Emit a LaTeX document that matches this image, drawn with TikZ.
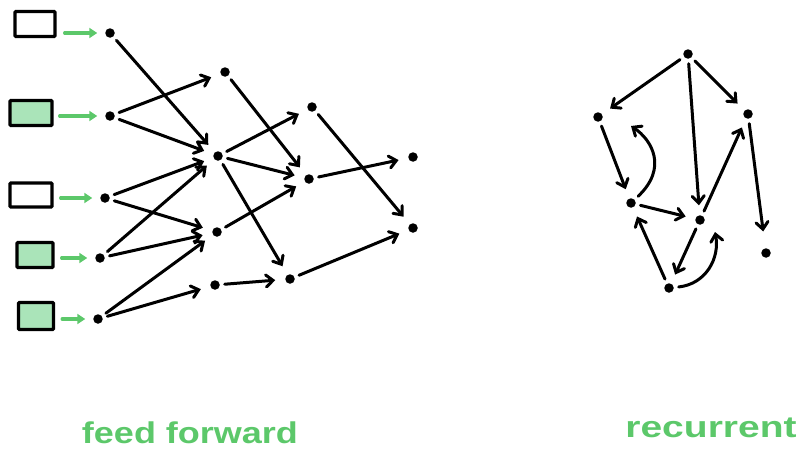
\documentclass[tikz,border=0pt]{standalone}
\usepackage{fontspec}
\setmainfont{Liberation Sans}
\usetikzlibrary{arrows.meta}
\definecolor{fgreen}{RGB}{92,200,106}
\definecolor{boxgreen}{RGB}{170,228,185}
\begin{document}
\begin{tikzpicture}[x=1pt,y=-1pt,
  dot/.style={circle,fill=black,inner sep=0pt,minimum size=9.5pt,outer sep=5pt},
  inbox/.style={draw=black,line width=3.2pt,inner sep=0pt,rounded corners=1pt},
  edge/.style={line width=3pt,line cap=round,shorten >=5pt,-{Straight Barb[length=7pt,width=12pt,line cap=round]}},
  garrow/.style={draw=fgreen,line width=3.2pt,line cap=round,shorten >=3pt,-{Triangle[length=8pt,width=10pt]}},
  lbl/.style={text=fgreen,font=\fontsize{30}{30}\selectfont\bfseries,anchor=base,inner sep=0pt}
]
\useasboundingbox (0,0) rectangle (800,455);
% input boxes
\node[inbox,fill=white,minimum width=40pt,minimum height=25pt] (b1) at (35,24) {};
\node[inbox,fill=boxgreen,minimum width=42pt,minimum height=25pt] (b2) at (31,113) {};
\node[inbox,fill=white,minimum width=42pt,minimum height=24pt] (b3) at (31,195) {};
\node[inbox,fill=boxgreen,minimum width=36pt,minimum height=25pt] (b4) at (35,255) {};
\node[inbox,fill=boxgreen,minimum width=35pt,minimum height=27pt] (b5) at (36,316) {};
% input layer
\node[dot] (i1) at (110,33) {};
\node[dot] (i2) at (110,116) {};
\node[dot] (i3) at (105,198) {};
\node[dot] (i4) at (100,258) {};
\node[dot] (i5) at (98,319) {};
% hidden 1
\node[dot] (h1) at (225,72) {};
\node[dot] (h2) at (218,156) {};
\node[dot] (h3) at (217,232) {};
\node[dot] (h4) at (215,285) {};
% hidden 2
\node[dot] (j1) at (312,107) {};
\node[dot] (j2) at (309,179) {};
\node[dot] (j3) at (290,279) {};
% output
\node[dot] (o1) at (413,157) {};
\node[dot] (o2) at (413,228) {};
% green arrows
\draw[garrow] ([xshift=8pt]b1.east |- i1) -- (i1);
\draw[garrow] ([xshift=6pt]b2.east |- i2) -- (i2);
\draw[garrow] ([xshift=7pt]b3.east |- i3) -- (i3);
\draw[garrow] ([xshift=7pt]b4.east |- i4) -- (i4);
\draw[garrow] ([xshift=7pt]b5.east |- i5) -- (i5);
% feed forward edges
\draw[edge] (i1) -- (h2);
\draw[edge] (i2) -- (h1);
\draw[edge] (i2) -- (h2);
\draw[edge] (i3) -- (h2);
\draw[edge] (i3) -- (h3);
\draw[edge] (i4) -- (h2);
\draw[edge] (i4) -- (h3);
\draw[edge] (i5) -- (h3);
\draw[edge] (i5) -- (h4);
\draw[edge] (h1) -- (j2);
\draw[edge] (h2) -- (j1);
\draw[edge] (h2) -- (j2);
\draw[edge] (h2) -- (j3);
\draw[edge] (h3) -- (j2);
\draw[edge] (h4) -- (j3);
\draw[edge] (j1) -- (o2);
\draw[edge] (j2) -- (o1);
\draw[edge] (j3) -- (o2);
% recurrent
\node[dot] (rt) at (688,54) {};
\node[dot] (rl) at (598,117) {};
\node[dot] (rr) at (748,114) {};
\node[dot] (rml) at (631,203) {};
\node[dot] (rc) at (700,220) {};
\node[dot] (rb) at (669,288) {};
\node[dot] (rf) at (766,253) {};
\draw[edge] (rt) -- (rl);
\draw[edge] (rt) -- (rc);
\draw[edge] (rt) -- (rr);
\draw[edge] (rl) -- (rml);
\draw[edge] (rml) -- (rc);
\draw[edge] (rc) -- (rb);
\draw[edge] (rb) -- (rml);
\draw[edge] (rc) -- (rr);
\draw[edge,shorten >=12pt] (rr) -- (rf);
\draw[edge,shorten >=0pt] (rml) .. controls (668,168) and (652,140) .. ([shift={(33,9)}]rl.center);
\draw[edge,shorten >=0pt] (rb) .. controls (706,284) and (720,258) .. ([shift={(15,12)}]rc.center);
% labels
\node[lbl,xscale=1.2] (ff) at (190,443) {feed forward};
\node[lbl,xscale=1.3] (rec) at (711,437) {recurrent};
\end{tikzpicture}
\end{document}
